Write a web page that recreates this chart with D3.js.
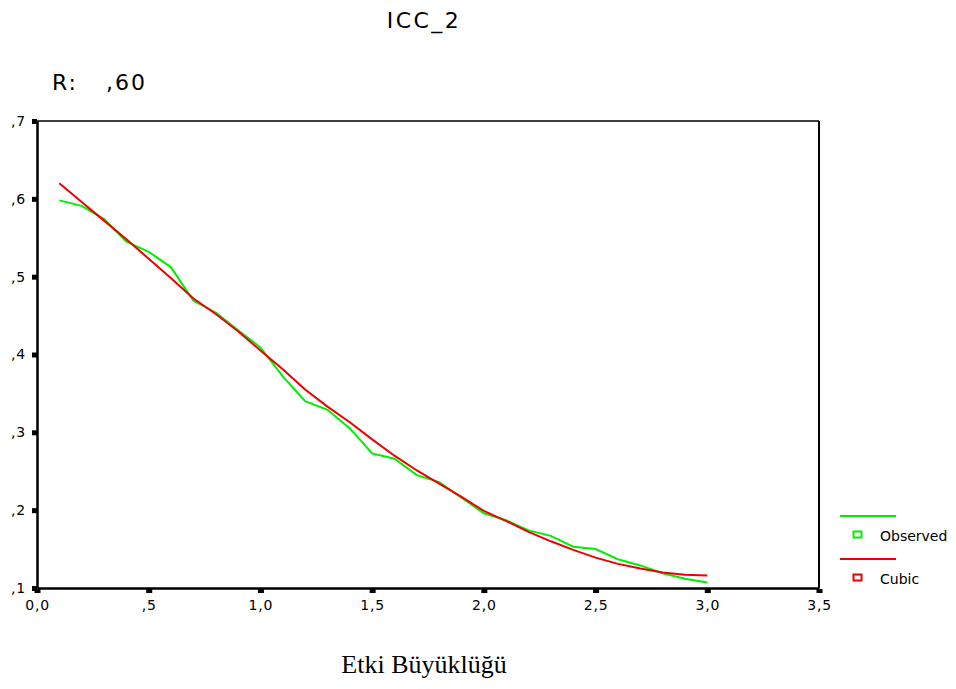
<!DOCTYPE html>
<html>
<head>
<meta charset="utf-8">
<script src="https://cdn.jsdelivr.net/npm/d3@7"></script>
<style>
  body { margin: 0; background: #fff; }
  svg { display: block; }
</style>
</head>
<body>
<div id="chart"></div>
<script>
'use strict';

// data
const effectSize = [0.1, 0.2, 0.3, 0.4, 0.5, 0.6, 0.7, 0.8, 0.9, 1.0,
                    1.1, 1.2, 1.3, 1.4, 1.5, 1.6, 1.7, 1.8, 1.9, 2.0,
                    2.1, 2.2, 2.3, 2.4, 2.5, 2.6, 2.7, 2.8, 2.9, 3.0];
const observed = [0.598, 0.591, 0.574, 0.545, 0.532, 0.512, 0.469, 0.454, 0.431, 0.409,
                  0.372, 0.340, 0.329, 0.305, 0.273, 0.266, 0.245, 0.236, 0.216, 0.196,
                  0.187, 0.174, 0.167, 0.153, 0.150, 0.137, 0.129, 0.119, 0.112, 0.107];
const cubic = [0.620, 0.596, 0.572, 0.548, 0.523, 0.498, 0.472, 0.452, 0.430, 0.405,
               0.381, 0.355, 0.333, 0.313, 0.291, 0.270, 0.251, 0.234, 0.217, 0.199,
               0.186, 0.172, 0.160, 0.149, 0.139, 0.131, 0.125, 0.120, 0.117, 0.116];
const xTicks = [0, 0.5, 1.0, 1.5, 2.0, 2.5, 3.0, 3.5];
const yTicks = [0.1, 0.2, 0.3, 0.4, 0.5, 0.6, 0.7];
const series = [
    {name: "Observed", values: observed, color: "#00ee00"},
    {name: "Cubic", values: cubic, color: "#ee0000"}
];

const width = 956, height = 689;
const plot = {left: 37, right: 819, top: 121, bottom: 588};

// SPSS style number format: ",5" and "1,0"
function fmt(v) {
    let s = v.toFixed(1).replace('.', ',');
    if (v !== 0 && s.startsWith('0,')) s = s.slice(1);
    return s;
}

const svg = d3.select("#chart").append("svg")
    .attr("width", width)
    .attr("height", height);

const x = d3.scaleLinear().domain([0, 3.5]).range([plot.left, plot.right]);
const y = d3.scaleLinear().domain([0.1, 0.7]).range([plot.bottom, plot.top]);

// title and fit statistic
svg.append("text")
    .attr("x", 424).attr("y", 28)
    .attr("text-anchor", "middle")
    .style("font-family", "DejaVu Sans")
    .style("font-size", "22px")
    .style("letter-spacing", "2.5px")
    .text("ICC_2");

svg.append("text")
    .attr("x", 52).attr("y", 90)
    .style("font-family", "DejaVu Sans")
    .style("font-size", "22px")
    .style("letter-spacing", "2px")
    .text("R:");
svg.append("text")
    .attr("x", 106).attr("y", 90)
    .style("font-family", "DejaVu Sans")
    .style("font-size", "22px")
    .style("letter-spacing", "2px")
    .text(",60");

// frame
svg.append("line")
    .attr("x1", plot.left).attr("x2", plot.right)
    .attr("y1", plot.top).attr("y2", plot.top)
    .style("stroke", "#000").style("stroke-width", 1.5);
svg.append("line")
    .attr("x1", plot.right).attr("x2", plot.right)
    .attr("y1", plot.top).attr("y2", plot.bottom)
    .style("stroke", "#000").style("stroke-width", 2);

// axes
const xAxis = svg.append("g")
    .attr("transform", `translate(0,${plot.bottom})`)
    .call(d3.axisBottom(x).tickValues(xTicks).tickFormat(fmt).tickSize(0).tickPadding(12));
const yAxis = svg.append("g")
    .attr("transform", `translate(${plot.left},0)`)
    .call(d3.axisLeft(y).tickValues(yTicks).tickFormat(fmt).tickSize(0).tickPadding(11));

[xAxis, yAxis].forEach(g => {
    g.select(".domain").style("stroke", "#000").style("stroke-width", 2.5);
    g.selectAll("text")
        .style("font-family", "DejaVu Sans")
        .style("font-size", "14px")
        .style("letter-spacing", "0.8px")
        .style("fill", "#000");
});

// small square tick marks
xAxis.selectAll(".tick").append("rect")
    .attr("x", -3).attr("y", 1).attr("width", 6).attr("height", 4)
    .style("fill", "#000");
yAxis.selectAll(".tick").append("rect")
    .attr("x", -5).attr("y", -2.5).attr("width", 5).attr("height", 5)
    .style("fill", "#000");

// lines
const line = d3.line()
    .x((d, i) => x(effectSize[i]))
    .y(d => y(d));

series.forEach(s => {
    svg.append("path")
        .attr("d", line(s.values))
        .style("fill", "none")
        .style("stroke", s.color)
        .style("stroke-width", 2);
});

// legend
const legend = svg.append("g").attr("transform", "translate(840,516)");
series.forEach((s, i) => {
    const g = legend.append("g").attr("transform", `translate(0,${i * 43})`);
    g.append("line")
        .attr("x1", 0).attr("x2", 56)
        .attr("y1", 0).attr("y2", 0)
        .style("stroke", s.color).style("stroke-width", 2);
    g.append("rect")
        .attr("x", 13.5).attr("y", 15.5).attr("width", 8).attr("height", 6)
        .style("fill", "#fff")
        .style("stroke", s.color).style("stroke-width", 2);
    g.append("text")
        .attr("x", 40).attr("y", 25)
        .style("font-family", "DejaVu Sans")
        .style("font-size", "14px")
        .text(s.name);
});

// x axis title
svg.append("text")
    .attr("x", 424).attr("y", 673)
    .attr("text-anchor", "middle")
    .style("font-family", "Liberation Serif")
    .style("font-size", "26px")
    .text("Etki Büyüklüğü");
</script>
</body>
</html>
